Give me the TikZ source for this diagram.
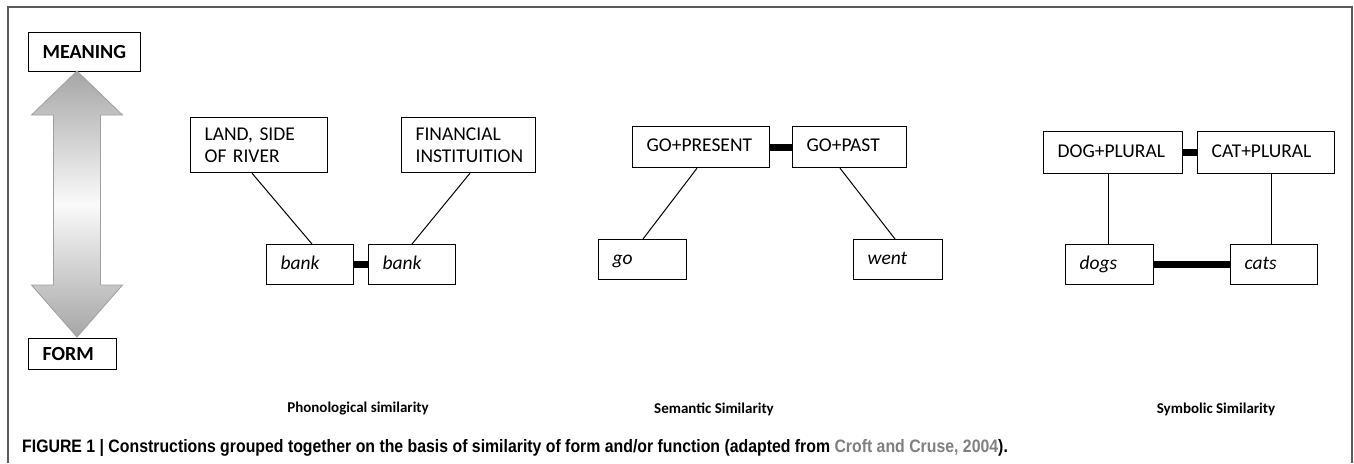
\documentclass[tikz,border=0pt]{standalone}
\usepackage{fontspec}
\setmainfont{Carlito}
\newfontfamily\capfont[FakeStretch=0.88]{Liberation Sans}
\definecolor{citegray}{RGB}{128,128,128}
\definecolor{framegray}{RGB}{90,90,90}
\begin{document}
\begin{tikzpicture}[x=1pt,y=-1pt,
  bx/.style={draw=black,line width=1.2pt,inner xsep=14pt,inner ysep=0pt,align=left,anchor=north west,font=\frenchspacing\fontsize{19.5}{22}\selectfont},
  one/.style={text height=13pt,text depth=4pt},
  hd/.style={draw=black,line width=1.2pt,inner xsep=14pt,inner ysep=0pt,anchor=north west,align=left,text height=13.5pt,text depth=1pt,font=\fontsize{20}{22}\selectfont\bfseries},
  thin/.style={line width=1pt},
  thick link/.style={line width=7pt},
  lab/.style={font=\fontsize{15}{18}\selectfont\bfseries}]
\useasboundingbox (0,0) rectangle (1354,463);
\fill[white] (0,0) rectangle (1354,463);
\draw[framegray,line width=1.4pt] (8,463) -- (8,7) -- (1352,7) -- (1352,463);
% meaning / form
\node[hd,minimum width=112pt,minimum height=39pt,text width=84pt] (meaning) at (28,32) {MEANING};
\node[hd,minimum width=88pt,minimum height=31pt,text width=60pt] (form) at (28,338) {FORM};
% double arrow
\shade[draw=gray!75,line width=0.8pt,top color=gray!70,bottom color=gray!70,middle color=gray!4]
  (77,71) -- (122.5,115) -- (100.5,115) -- (100.5,285) -- (122.5,285) -- (77,337)
  -- (31.5,285) -- (53.5,285) -- (53.5,115) -- (31.5,115) -- cycle;
% phonological
\node[bx,minimum width=137pt,minimum height=55pt,text width=109pt] (land) at (190,117) {LAND,\ SIDE\\OF RIVER};
\node[bx,minimum width=134pt,minimum height=55pt,text width=106pt] (fin) at (401,117) {FINANCIAL\\INSTITUITION};
\node[bx,one,minimum width=87pt,minimum height=40pt,text width=59pt] (bank1) at (266,244) {\itshape bank};
\node[bx,one,minimum width=87pt,minimum height=40pt,text width=59pt] (bank2) at (368,244) {\itshape bank};
\draw[thin] (land.south west) ++(62,0) coordinate (l1) (bank1.north west) ++(46,0) coordinate (b1);
\draw[thin] (l1) -- (b1);
\draw[thin] (fin.south west) ++(69,0) coordinate (f1) (bank2.north west) ++(44,0) coordinate (b2);
\draw[thin] (f1) -- (b2);
\draw[thick link] (bank1.east) -- (bank2.west);
% semantic
\node[bx,one,minimum width=137pt,minimum height=41pt,text width=109pt] (gopres) at (632,126) {GO+PRESENT};
\node[bx,one,minimum width=114pt,minimum height=41pt,text width=86pt] (gopast) at (792,126) {GO+PAST};
\node[bx,one,minimum width=88pt,minimum height=40pt,text width=60pt] (go) at (598,239) {\itshape go};
\node[bx,one,minimum width=89pt,minimum height=40pt,text width=61pt] (went) at (853,239) {\itshape went};
\draw[thick link] (gopres.east) -- (gopast.west);
\draw[thin] (gopres.south west) ++(65,0) coordinate (g1) (go.north west) ++(45,0) coordinate (g2);
\draw[thin] (g1) -- (g2);
\draw[thin] (gopast.south west) ++(48,0) coordinate (g3) (went.north west) ++(42,0) coordinate (g4);
\draw[thin] (g3) -- (g4);
% symbolic
\node[bx,one,minimum width=139pt,minimum height=42pt,text width=111pt] (dogpl) at (1043,131) {DOG+PLURAL};
\node[bx,one,minimum width=137pt,minimum height=42pt,text width=109pt] (catpl) at (1197,131) {CAT+PLURAL};
\node[bx,one,minimum width=88pt,minimum height=40pt,text width=60pt] (dogs) at (1065,244) {\itshape dogs};
\node[bx,one,minimum width=87pt,minimum height=40pt,text width=59pt] (cats) at (1230,244) {\itshape cats};
\draw[thick link] (dogpl.east) -- (catpl.west);
\draw[thick link] (dogs.east) -- (cats.west);
\draw[thin] (dogpl.south west) ++(65,0) coordinate (d1) (dogs.north west) ++(43,0) coordinate (d2);
\draw[thin] (d1) -- (d2);
\draw[thin] (catpl.south west) ++(74,0) coordinate (c1) (cats.north west) ++(41,0) coordinate (c2);
\draw[thin] (c1) -- (c2);
% labels
\node[lab] (l-phon) at (358,409) {Phonological similarity};
\node[lab] (l-sem) at (714,409) {Semantic Similarity};
\node[lab] (l-sym) at (1216,409) {Symbolic Similarity};
% caption
\node[anchor=base west,inner sep=0pt,font=\capfont\bfseries\fontsize{18}{20}\selectfont] (cap) at (22,452)
  {FIGURE 1 | Constructions grouped together on the basis of similarity of form and/or function (adapted from \textcolor{citegray}{Croft and Cruse, 2004}).};
\end{tikzpicture}
\end{document}
